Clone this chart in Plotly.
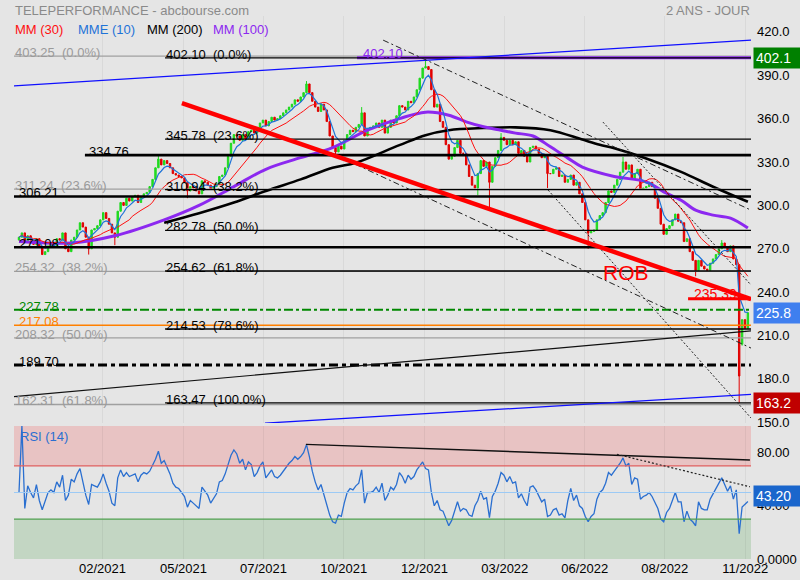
import plotly.graph_objects as go
import pandas as pd

# ---------------- data (2-trading-day candles, index axis) ----------------
closes = [
    278, 281, 275, 279, 276, 273, 277, 271, 266, 268,
    272, 274, 272, 277, 276, 281, 270, 268, 276, 278,
    283, 288, 285, 278, 270, 283, 284, 286, 290, 295,
    291, 287, 281, 278, 296, 302, 300, 305, 303, 306,
    307, 302, 306, 308, 309, 313, 318, 326, 332, 328,
    331, 329, 326, 322, 321, 320, 319, 316, 310, 313,
    312, 310, 308, 317, 316, 314, 311, 313, 315, 320,
    321, 326, 334, 343, 349, 348, 345, 349, 346, 351,
    352, 350, 354, 357, 359, 355, 358, 361, 359, 360,
    362, 364, 366, 368, 370, 373, 372, 375, 378, 384,
    378, 372, 368, 365, 370, 366, 358, 348, 340, 337,
    341, 339, 345, 349, 352, 351, 354, 356, 364, 348,
    353, 354, 355, 357, 354, 359, 350, 354, 359, 357,
    362, 369, 368, 366, 372, 371, 375, 380, 388, 395,
    396, 394, 380, 368, 370, 358, 354, 342, 332, 334,
    340, 345, 336, 336, 328, 320, 314, 312, 322, 331,
    327, 330, 316, 327, 333, 338, 347, 345, 342, 345,
    342, 344, 336, 338, 334, 330, 340, 341, 339, 336,
    333, 334, 322, 322, 325, 326, 320, 321, 316, 318,
    321, 314, 316, 308, 302, 290, 281, 282, 283, 290,
    293, 295, 302, 310, 309, 314, 318, 323, 330, 325,
    328, 318, 322, 325, 311, 312, 313, 316, 313, 305,
    298, 287, 280, 284, 286, 290, 294, 289, 288, 275,
    277, 268, 262, 255, 262, 258, 256, 255, 260, 263,
    266, 270, 274, 271, 268, 272, 263, 259, 182, 221,
    215, 225.8,
]

rsi14 = [
    50, 100, 38, 55, 50, 46, 56, 44, 37, 44,
    50, 52, 50, 58, 54, 63, 44, 48, 60, 58,
    64, 68, 58, 48, 41, 56, 55, 54, 58, 64,
    57, 51, 42, 40, 61, 67, 62, 65, 62, 63,
    64, 58, 63, 65, 64, 66, 70, 75, 81, 72,
    74, 69, 64, 57, 54, 53, 50, 47, 39, 44,
    42, 40, 38, 54, 51, 48, 42, 46, 49, 58,
    59, 64, 71, 78, 82, 79, 72, 75, 67, 73,
    71, 62, 65, 70, 73, 61, 64, 67, 62, 61,
    63, 66, 69, 72, 74, 77, 75, 77, 80, 86,
    77, 66, 58, 52, 56, 48, 42, 33, 28, 27,
    33, 32, 42, 50, 53, 52, 55, 57, 67, 42,
    50, 50, 51, 54, 50, 57, 44, 48, 54, 52,
    56, 65, 62, 57, 63, 60, 62, 67, 70, 73,
    68, 67, 50, 40, 44, 37, 36, 30, 25, 29,
    37, 43, 36, 38, 37, 33, 32, 40, 44, 51,
    45, 46, 31, 47, 51, 57, 65, 63, 58, 62,
    57, 58, 46, 49, 44, 40, 54, 55, 52, 47,
    43, 45, 32, 33, 37, 38, 33, 34, 31, 44,
    53, 44, 48, 40, 38, 32, 28, 32, 34, 45,
    50, 52, 57, 65, 63, 66, 69, 72, 76, 70,
    72, 56, 61, 60, 45, 47, 48, 50, 47, 42,
    38, 30, 28, 35, 38, 44, 50, 43, 43, 28,
    36, 30, 28, 25, 43, 38, 37, 37, 45, 49,
    53, 57, 61, 56, 51, 55, 45, 52, 19, 39,
    41, 43.2,
]

open_fix = {0: 276, 249: 204}
wick_high = {48: 335, 99: 386, 140: 402.1, 118: 368, 166: 350, 208: 333.5, 242: 276}
wick_low = {24: 266, 33: 272.5, 58: 305, 109: 334.5, 158: 307, 162: 298,
            182: 312, 196: 270, 233: 251, 248: 163.2, 249: 203}

mm100_idx = [0, 18, 33, 50, 62, 74, 85, 97, 108, 120, 131, 140, 148, 154, 160, 166,
             171, 177, 183, 189, 194, 205, 216, 222, 228, 233, 239, 245, 251]
mm100_val = [275, 274, 279, 290, 300, 313, 325, 333, 340, 352, 360, 364.5, 362.4, 357.8,
             354.4, 352, 350, 348, 340.5, 332.7, 326.5, 320, 316.3, 309.4, 303.6, 296.7,
             293.3, 291.2, 284.3]
mm200_idx = [50, 62, 74, 85, 97, 108, 116, 131, 140, 148, 160, 171, 183, 194, 200,
             205, 216, 228, 239, 251]
mm200_val = [288, 294.6, 302, 310, 318, 326, 329.5, 341.7, 348.6, 352, 353.5, 354, 352,
             345.5, 342, 339.5, 332.5, 323.2, 312.9, 302.5]

date_tick_idx = [28.75, 56.65, 84.2, 111.8, 139.6, 167.3, 194.8, 222.4, 250.1]
date_tick_lbl = ["02/2021", "05/2021", "07/2021", "10/2021", "12/2021",
                 "03/2022", "06/2022", "08/2022", "11/2022"]
price_ticks = [150, 180, 210, 240, 270, 300, 330, 360, 390, 420]
rsi_ticks = [0, 40, 80]
rsi_tick_lbl = ["0.0000", "40.00", "80.00"]

fib_left_val = [403.25, 311.24, 254.32, 208.32, 162.31]
fib_left_pct = ["0.0%", "23.6%", "38.2%", "50.0%", "61.8%"]
fib_right_val = [402.10, 345.78, 310.94, 282.78, 254.62, 214.53, 163.47]
fib_right_pct = ["0.0%", "23.6%", "38.2%", "50.0%", "61.8%", "78.6%", "100.0%"]
fib_right_start = 50.3

thick_levels = [334.76, 306.21, 271.08]
thick_starts = [22.7, None, None]

# trendlines: (i0, p0, i1, p1, color, width, dash)
trendlines = [
    (-1.72, 382.7, 252.1, 414.3, "#1010ff", 1.3, "solid"),
    (84.7, 149.4, 252.1, 169.25, "#1010ff", 1.3, "solid"),
    (-1.72, 167.8, 252.1, 213.2, "#111111", 1.2, "solid"),
    (125.4, 414.3, 252.1, 296.7, "#222222", 1.0, "6px,3px,2px,3px"),
    (107.1, 336.6, 252.1, 201.3, "#222222", 1.0, "6px,3px,2px,3px"),
    (201.1, 357.6, 252.1, 244.9, "#222222", 1.0, "2px,2px"),
    (182.2, 310.6, 252.1, 152.9, "#222222", 1.0, "2px,2px"),
]
rob_line = (56.1, 370.75, 252.1, 235.2)
rob_level = 235.39
rob_level_start = 230.4
rsi_lines = [
    (98.8, 86.2, 251.7, 74.4, "#111111", 1.4, "solid"),
    (205.9, 78.7, 251.7, 54.3, "#222222", 1.2, "2px,2px"),
]

# ---------------- derived series ----------------
N = len(closes)
idx = list(range(N))
opens = [closes[0]] + closes[:-1]
for k, v in open_fix.items():
    opens[k] = v
highs = [max(o, c) for o, c in zip(opens, closes)]
lows = [min(o, c) for o, c in zip(opens, closes)]
for k, v in wick_high.items():
    highs[k] = max(highs[k], v)
for k, v in wick_low.items():
    lows[k] = min(lows[k], v)

s = pd.Series(closes)
mm30 = s.rolling(15, min_periods=1).mean()
mme10 = s.ewm(span=5, adjust=False).mean()

# ---------------- figure ----------------
BG = "#e5e5e5"
FONT = "Liberation Sans, Arial, sans-serif"
PH = 559.0


def py(p):
    return (PH - p) / PH


def pxx(p):
    return (p - 14) / 737.0


fig = go.Figure()

fig.add_trace(go.Candlestick(
    x=idx, open=opens, high=highs, low=lows, close=closes,
    increasing=dict(line=dict(color="#1ed81e", width=1), fillcolor="#22e022"),
    decreasing=dict(line=dict(color="#e00000", width=1), fillcolor="#e80000"),
    whiskerwidth=0, xaxis="x", yaxis="y", hoverinfo="skip", showlegend=False,
))

fig.add_trace(go.Scatter(x=mm200_idx, y=mm200_val, mode="lines", line=dict(color="#000000", width=2.6, shape="spline"),
                         xaxis="x", yaxis="y", showlegend=False, hoverinfo="skip"))
fig.add_trace(go.Scatter(x=mm100_idx, y=mm100_val, mode="lines", line=dict(color="#8c28f0", width=3, shape="spline"),
                         xaxis="x", yaxis="y", showlegend=False, hoverinfo="skip"))
fig.add_trace(go.Scatter(x=idx, y=mm30, mode="lines", line=dict(color="#ff1010", width=1),
                         xaxis="x", yaxis="y", showlegend=False, hoverinfo="skip"))
fig.add_trace(go.Scatter(x=idx, y=mme10, mode="lines", line=dict(color="#1e73d8", width=1.2),
                         xaxis="x", yaxis="y", showlegend=False, hoverinfo="skip"))

fig.add_trace(go.Scatter(x=idx, y=rsi14, mode="lines", line=dict(color="#2a6fd0", width=1.3),
                         xaxis="x2", yaxis="y2", showlegend=False, hoverinfo="skip"))

shapes = []
# RSI bands
shapes.append(dict(type="rect", xref="paper", yref="y2", x0=0, x1=1, y0=70, y1=100,
                   fillcolor="#e8c3c3", line=dict(width=0), layer="below"))
shapes.append(dict(type="rect", xref="paper", yref="y2", x0=0, x1=1, y0=0, y1=30,
                   fillcolor="#c3d6c3", line=dict(width=0), layer="below"))
for lv, col in [(70, "#e06060"), (30, "#50a050"), (50, "#9ccaf5")]:
    shapes.append(dict(type="line", xref="paper", yref="y2", x0=0, x1=1, y0=lv, y1=lv,
                       line=dict(color=col, width=1.2)))
for (a, b, c, d, col, w, dash) in rsi_lines:
    shapes.append(dict(type="line", xref="x2", yref="y2", x0=a, y0=b, x1=c, y1=d,
                       line=dict(color=col, width=w, dash=dash)))

# gray fib (full width)
for v in fib_left_val:
    shapes.append(dict(type="line", xref="paper", yref="y", x0=0, x1=1, y0=v, y1=v,
                       line=dict(color="#a0a0a0", width=1.3)))
# purple 402.10
shapes.append(dict(type="line", xref="x", yref="y", x0=116.4, x1=252.2, y0=402.1, y1=402.1,
                   line=dict(color="#8c28f0", width=3)))
# black fib
for v in fib_right_val:
    shapes.append(dict(type="line", xref="x", yref="y", x0=fib_right_start, x1=252.2, y0=v, y1=v,
                       line=dict(color="#000000", width=1.3)))
# thick levels
for v, st in zip(thick_levels, thick_starts):
    if st is None:
        shapes.append(dict(type="line", xref="paper", yref="y", x0=0, x1=1, y0=v, y1=v,
                           line=dict(color="#000000", width=2.6)))
    else:
        shapes.append(dict(type="line", xref="x", yref="y", x0=st, x1=252.2, y0=v, y1=v,
                           line=dict(color="#000000", width=2.6)))
shapes.append(dict(type="line", xref="paper", yref="y", x0=0, x1=1, y0=227.78, y1=227.78,
                   line=dict(color="#008800", width=2, dash="9px,3px,3px,3px")))
shapes.append(dict(type="line", xref="paper", yref="y", x0=0, x1=1, y0=217.08, y1=217.08,
                   line=dict(color="#ff8000", width=1.5)))
shapes.append(dict(type="line", xref="paper", yref="y", x0=0, x1=1, y0=189.70, y1=189.70,
                   line=dict(color="#000000", width=3, dash="9px,4px,4px,4px")))
for (a, b, c, d, col, w, dash) in trendlines:
    shapes.append(dict(type="line", xref="x", yref="y", x0=a, y0=b, x1=c, y1=d,
                       line=dict(color=col, width=w, dash=dash)))
shapes.append(dict(type="line", xref="x", yref="y", x0=rob_line[0], y0=rob_line[1], x1=rob_line[2], y1=rob_line[3],
                   line=dict(color="#ff0000", width=4.5)))
shapes.append(dict(type="line", xref="x", yref="y", x0=rob_level_start, x1=252.2, y0=rob_level, y1=rob_level,
                   line=dict(color="#ff0000", width=3)))

ann = []


def txt(text, x, y, color, size=13, xref="paper", yref="paper", xanchor="left", yanchor="middle", yshift=0, xshift=0):
    ann.append(dict(text=text, x=x, y=y, xref=xref, yref=yref, xanchor=xanchor, yanchor=yanchor,
                    showarrow=False, font=dict(color=color, size=size, family=FONT),
                    yshift=yshift, xshift=xshift, borderpad=0))


txt("TELEPERFORMANCE - abcbourse.com", 0, py(10), "#8a8a8a", 13)
txt("2 ANS - JOUR", 1, py(10), "#8a8a8a", 13, xanchor="right")
for t, xp, col in [("MM (30)", 14, "#ff1010"), ("MME (10)", 77, "#1e73d8"),
                   ("MM (200)", 146, "#000000"), ("MM (100)", 212, "#8c28f0")]:
    txt(t, pxx(xp), py(29), col, 13)

for v, p in zip(fib_left_val, fib_left_pct):
    txt(f"{v:.2f}\u00a0 ({p})", 0, v, "#9a9a9a", 13, yref="y", yanchor="bottom", yshift=-5)
for v, p in zip(fib_right_val, fib_right_pct):
    txt(f"{v:.2f}\u00a0 ({p})", fib_right_start, v, "#000000", 13, xref="x", yref="y", yanchor="bottom", yshift=-5)
txt("402.10", 118.1, 402.1, "#8c28f0", 13, xref="x", yref="y", yanchor="bottom", yshift=-4)
txt("334.76", 23.8, 334.76, "#000000", 13, xref="x", yref="y", yanchor="bottom", yshift=-5)
txt("306.21", pxx(18), 306.21, "#000000", 13, yref="y", yanchor="bottom", yshift=-5)
txt("271.08", pxx(18), 271.08, "#000000", 13, yref="y", yanchor="bottom", yshift=-5)
txt("227.78", pxx(18), 227.78, "#008800", 13, yref="y", yanchor="bottom", yshift=-5)
txt("217.08", pxx(18), 217.08, "#ff8000", 13, yref="y", yanchor="bottom", yshift=-5)
txt("189.70", pxx(18), 189.70, "#000000", 13, yref="y", yanchor="bottom", yshift=-5)
txt("ROB", 209, 253.9, "#ff0000", 21, xref="x", yref="y", xanchor="center")
txt("235.39", 232.1, rob_level, "#ff0000", 14, xref="x", yref="y", yanchor="bottom", yshift=-4)
txt("RSI (14)", pxx(19), py(436), "#2a6fd0", 13)

for v, bg, yref, ys in [(402.1, "#008000", "y", 0), (225.8, "#3f7fef", "y", 0),
                         (163.2, "#c00000", "y", 0), (43.2, "#1a66cc", "y2", 6)]:
    ann.append(dict(text=(f"{v:.2f}" if yref == "y2" else f"{v:.1f}"), x=1, y=v, xref="paper", yref=yref,
                    xanchor="left", yanchor="middle", xshift=2, yshift=ys, showarrow=False,
                    font=dict(color="#ffffff", size=14, family=FONT), bgcolor=bg,
                    width=46, align="left", borderpad=2))

fig.update_layout(
    width=800, height=580,
    margin=dict(l=14, r=49, t=0, b=21),
    paper_bgcolor=BG, plot_bgcolor=BG,
    showlegend=False,
    font=dict(family=FONT, size=13, color="#000000"),
    shapes=shapes, annotations=ann,
    xaxis=dict(domain=[0, 1], anchor="y", range=[-1.72, 252.07], showticklabels=False,
               tickvals=date_tick_idx, showgrid=True, gridcolor="rgba(0,0,0,0.05)",
               zeroline=False, rangeslider=dict(visible=False), fixedrange=True),
    xaxis2=dict(domain=[0, 1], anchor="y2", range=[-1.72, 252.07], tickvals=date_tick_idx,
                ticktext=date_tick_lbl, showgrid=True, gridcolor="rgba(0,0,0,0.05)",
                zeroline=False, tickfont=dict(size=13, color="#000000"), ticks=""),
    yaxis=dict(domain=[0.24329, 0.97138], anchor="x", side="right", range=[149.5, 431],
               tickvals=price_ticks, ticktext=[f"{v:.1f}" for v in price_ticks],
               showgrid=False, zeroline=False, ticklabelstandoff=5,
               tickfont=dict(size=13, color="#000000")),
    yaxis2=dict(domain=[0, 0.23792], anchor="x2", side="right", range=[0, 100],
                tickvals=rsi_ticks, ticktext=rsi_tick_lbl, showgrid=False, zeroline=False,
                ticklabelstandoff=5, tickfont=dict(size=13, color="#000000")),
)

fig.write_html("out.html",
               config={"displayModeBar": False, "staticPlot": True},
               post_script="document.body.style.margin='0px';document.body.style.background='#e5e5e5';")
